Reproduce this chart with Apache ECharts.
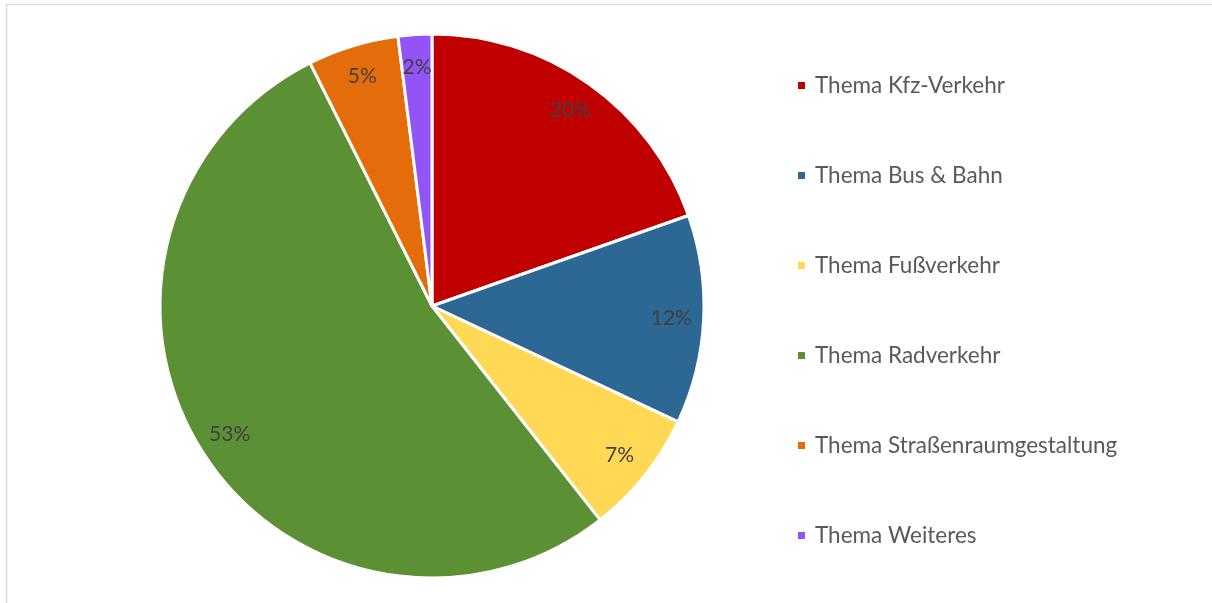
<!DOCTYPE html>
<html>
<head>
<meta charset="utf-8">
<script src="https://cdn.jsdelivr.net/npm/echarts@6/dist/echarts.min.js"></script>
<style>
  html, body { margin: 0; padding: 0; background: #fff; }
  #chart { width: 1212px; height: 603px; }
</style>
</head>
<body>
<div id="chart"></div>
<script>
// Themen und ihre Anteile (in Prozent)
const categories = [
  'Thema Kfz-Verkehr',
  'Thema Bus & Bahn',
  'Thema Fußverkehr',
  'Thema Radverkehr',
  'Thema Straßenraumgestaltung',
  'Thema Weiteres'
];
const shares = [19.6, 12.4, 7.4, 53.2, 5.4, 2.0];
const colors = ['#C00000', '#2D6895', '#FFD955', '#5B9034', '#E46C0A', '#9254F7'];

const total = shares.reduce((a, b) => a + b, 0);
const data = categories.map((name, i) => ({ name, value: shares[i] }));

const chart = echarts.init(document.getElementById('chart'), null, { renderer: 'canvas' });
const R = 272;
const font = 'Lato, "Open Sans", sans-serif';

chart.setOption({
  animation: false,
  color: colors,
  graphic: [{
    type: 'rect',
    shape: { x: 6.5, y: 4.5, width: 1300, height: 700 },
    style: { fill: 'none', stroke: '#d9d9d9', lineWidth: 1.5 },
    silent: true,
    z: -1
  }],
  legend: {
    orient: 'vertical',
    left: 791,
    top: 67,
    itemWidth: 9,
    itemHeight: 9,
    itemGap: 63,
    icon: 'rect',
    data: categories,
    textStyle: { color: '#595959', fontSize: 22.5, lineHeight: 27, fontFamily: font, padding: [0, 0, 0, 4] }
  },
  series: [
    {
      type: 'pie',
      center: [432, 306],
      radius: [0, R],
      startAngle: 90,
      clockwise: true,
      data: data,
      itemStyle: { borderColor: '#fff', borderWidth: 3 },
      label: { show: false },
      labelLine: { show: false },
      emphasis: { disabled: true }
    },
    {
      // transparent ring that carries the percentage labels near the rim
      type: 'pie',
      center: [432, 306],
      radius: [R * 0.74, R],
      startAngle: 90,
      clockwise: true,
      silent: true,
      data: data,
      itemStyle: { color: 'rgba(0,0,0,0)', borderWidth: 0 },
      label: {
        show: true,
        position: 'inside',
        color: '#404040',
        fontSize: 21,
        fontFamily: font,
        formatter: p => Math.round(p.value / total * 100) + '%'
      },
      labelLine: { show: false },
      emphasis: { disabled: true }
    }
  ]
});
</script>
</body>
</html>
